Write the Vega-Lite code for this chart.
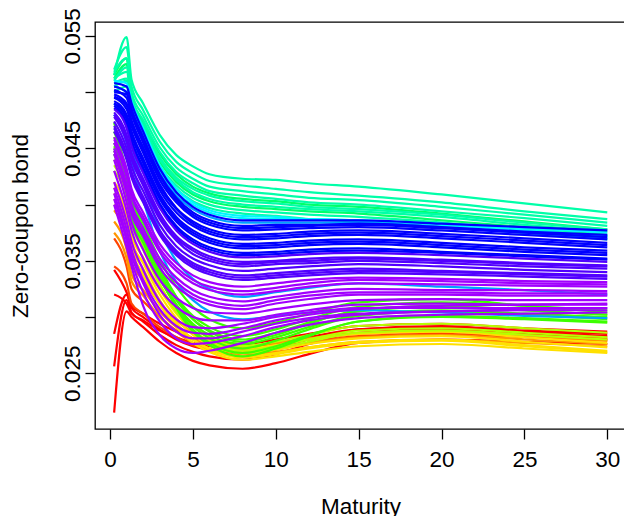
{
  "$schema": "https://vega.github.io/schema/vega-lite/v6.json",
  "width": 532,
  "height": 407,
  "autosize": "none",
  "padding": {"left": 95, "top": 22, "right": 0, "bottom": 90},
  "background": "white",
  "data": {"values": [
    {"id":"r1","grp":"r","a":0.0215,"b":0.0305,"p":0.0300,"c":0.0291,"d":0.0278,"e":0.0268,"f":0.0261,"g":0.0257,"h":0.0254,"i":0.0259,"j":0.0267,"k":0.0277,"l":0.0280,"m":0.0278,"n":0.0276},
    {"id":"r2","grp":"r","a":0.0256,"b":0.0315,"p":0.0304,"c":0.0296,"d":0.0284,"e":0.0275,"f":0.0269,"g":0.0265,"h":0.0262,"i":0.0267,"j":0.0276,"k":0.0286,"l":0.0289,"m":0.0285,"n":0.0280},
    {"id":"r3","grp":"r","a":0.0285,"b":0.0320,"p":0.0308,"c":0.0300,"d":0.0289,"e":0.0280,"f":0.0274,"g":0.0271,"h":0.0268,"i":0.0273,"j":0.0280,"k":0.0289,"l":0.0292,"m":0.0287,"n":0.0283},
    {"id":"r4","grp":"r","a":0.0320,"b":0.0312,"p":0.0303,"c":0.0297,"d":0.0288,"e":0.0282,"f":0.0277,"g":0.0274,"h":0.0272,"i":0.0276,"j":0.0282,"k":0.0289,"l":0.0291,"m":0.0288,"n":0.0285},
    {"id":"r5","grp":"r","a":0.0342,"b":0.0322,"p":0.0310,"c":0.0303,"d":0.0294,"e":0.0287,"f":0.0281,"g":0.0278,"h":0.0276,"i":0.0280,"j":0.0285,"k":0.0292,"l":0.0294,"m":0.0290,"n":0.0287},
    {"id":"o1","grp":"or","a":0.0345,"b":0.0330,"p":0.0312,"c":0.0303,"d":0.0291,"e":0.0282,"f":0.0275,"g":0.0271,"h":0.0268,"i":0.0271,"j":0.0277,"k":0.0283,"l":0.0285,"m":0.0282,"n":0.0279},
    {"id":"o2","grp":"or","a":0.0370,"b":0.0345,"p":0.0325,"c":0.0314,"d":0.0300,"e":0.0288,"f":0.0280,"g":0.0276,"h":0.0272,"i":0.0275,"j":0.0280,"k":0.0285,"l":0.0287,"m":0.0284,"n":0.0281},
    {"id":"o3","grp":"o","a":0.0385,"b":0.0360,"p":0.0338,"c":0.0324,"d":0.0305,"e":0.0291,"f":0.0281,"g":0.0275,"h":0.0270,"i":0.0273,"j":0.0277,"k":0.0282,"l":0.0284,"m":0.0280,"n":0.0276},
    {"id":"o4","grp":"o","a":0.0395,"b":0.0370,"p":0.0348,"c":0.0333,"d":0.0312,"e":0.0297,"f":0.0286,"g":0.0279,"h":0.0274,"i":0.0277,"j":0.0281,"k":0.0286,"l":0.0288,"m":0.0284,"n":0.0279},
    {"id":"o5","grp":"o","a":0.0375,"b":0.0352,"p":0.0332,"c":0.0319,"d":0.0300,"e":0.0287,"f":0.0277,"g":0.0271,"h":0.0266,"i":0.0269,"j":0.0273,"k":0.0278,"l":0.0280,"m":0.0277,"n":0.0274},
    {"id":"y1","grp":"y","a":0.0405,"b":0.0380,"p":0.0358,"c":0.0339,"d":0.0313,"e":0.0294,"f":0.0280,"g":0.0272,"h":0.0265,"i":0.0268,"j":0.0273,"k":0.0278,"l":0.0280,"m":0.0275,"n":0.0270},
    {"id":"y2","grp":"y","a":0.0415,"b":0.0390,"p":0.0368,"c":0.0348,"d":0.0320,"e":0.0299,"f":0.0284,"g":0.0275,"h":0.0268,"i":0.0271,"j":0.0276,"k":0.0281,"l":0.0283,"m":0.0278,"n":0.0273},
    {"id":"y3","grp":"y","a":0.0420,"b":0.0395,"p":0.0373,"c":0.0353,"d":0.0325,"e":0.0303,"f":0.0288,"g":0.0279,"h":0.0272,"i":0.0275,"j":0.0280,"k":0.0285,"l":0.0287,"m":0.0282,"n":0.0277},
    {"id":"y4","grp":"y","a":0.0400,"b":0.0378,"p":0.0356,"c":0.0337,"d":0.0311,"e":0.0291,"f":0.0277,"g":0.0269,"h":0.0262,"i":0.0265,"j":0.0269,"k":0.0274,"l":0.0276,"m":0.0272,"n":0.0268},
    {"id":"y5","grp":"y","a":0.0410,"b":0.0385,"p":0.0363,"c":0.0343,"d":0.0315,"e":0.0295,"f":0.0280,"g":0.0271,"h":0.0264,"i":0.0267,"j":0.0272,"k":0.0277,"l":0.0279,"m":0.0274,"n":0.0269},
    {"id":"g1","grp":"yg","a":0.0430,"b":0.0405,"p":0.0383,"c":0.0360,"d":0.0329,"e":0.0305,"f":0.0288,"g":0.0278,"h":0.0270,"i":0.0274,"j":0.0280,"k":0.0288,"l":0.0290,"m":0.0286,"n":0.0282},
    {"id":"g2","grp":"yg","a":0.0440,"b":0.0412,"p":0.0390,"c":0.0367,"d":0.0334,"e":0.0310,"f":0.0293,"g":0.0282,"h":0.0274,"i":0.0278,"j":0.0284,"k":0.0292,"l":0.0294,"m":0.0290,"n":0.0286},
    {"id":"g3","grp":"yg","a":0.0435,"b":0.0408,"p":0.0386,"c":0.0362,"d":0.0329,"e":0.0305,"f":0.0287,"g":0.0276,"h":0.0268,"i":0.0272,"j":0.0278,"k":0.0286,"l":0.0288,"m":0.0284,"n":0.0280},
    {"id":"g4","grp":"g","a":0.0473,"b":0.0425,"p":0.0403,"c":0.0375,"d":0.0337,"e":0.0308,"f":0.0287,"g":0.0275,"h":0.0265,"i":0.0272,"j":0.0283,"k":0.0296,"l":0.0300,"m":0.0298,"n":0.0295},
    {"id":"g5","grp":"g","a":0.0455,"b":0.0420,"p":0.0398,"c":0.0373,"d":0.0338,"e":0.0311,"f":0.0292,"g":0.0281,"h":0.0272,"i":0.0279,"j":0.0289,"k":0.0301,"l":0.0305,"m":0.0302,"n":0.0298},
    {"id":"g6","grp":"g","a":0.0460,"b":0.0428,"p":0.0406,"c":0.0380,"d":0.0345,"e":0.0318,"f":0.0298,"g":0.0287,"h":0.0278,"i":0.0284,"j":0.0294,"k":0.0306,"l":0.0310,"m":0.0306,"n":0.0302},
    {"id":"g7","grp":"g","a":0.0450,"b":0.0418,"p":0.0396,"c":0.0373,"d":0.0342,"e":0.0318,"f":0.0301,"g":0.0291,"h":0.0283,"i":0.0289,"j":0.0298,"k":0.0309,"l":0.0313,"m":0.0310,"n":0.0306},
    {"id":"g8","grp":"g","a":0.0465,"b":0.0430,"p":0.0408,"c":0.0384,"d":0.0351,"e":0.0327,"f":0.0309,"g":0.0298,"h":0.0290,"i":0.0295,"j":0.0303,"k":0.0313,"l":0.0316,"m":0.0310,"n":0.0304},
    {"id":"g9","grp":"g","a":0.0445,"b":0.0410,"p":0.0388,"c":0.0366,"d":0.0334,"e":0.0311,"f":0.0294,"g":0.0284,"h":0.0276,"i":0.0282,"j":0.0291,"k":0.0302,"l":0.0306,"m":0.0303,"n":0.0300},
    {"id":"g10","grp":"g","a":0.0448,"b":0.0415,"p":0.0393,"c":0.0370,"d":0.0339,"e":0.0315,"f":0.0298,"g":0.0288,"h":0.0280,"i":0.0286,"j":0.0295,"k":0.0305,"l":0.0309,"m":0.0306,"n":0.0302},
    {"id":"g11","grp":"g","a":0.0452,"b":0.0422,"p":0.0400,"c":0.0374,"d":0.0337,"e":0.0309,"f":0.0289,"g":0.0277,"h":0.0268,"i":0.0274,"j":0.0284,"k":0.0296,"l":0.0301,"m":0.0299,"n":0.0296},
    {"id":"gt1","grp":"gt","a":0.0515,"b":0.0530,"p":0.0495,"c":0.0473,"d":0.0445,"e":0.0427,"f":0.0416,"g":0.0410,"h":0.0405,"i":0.0403,"j":0.0400,"k":0.0398,"l":0.0392,"m":0.0385,"n":0.0378},
    {"id":"gt2","grp":"gt","a":0.0512,"b":0.0525,"p":0.0488,"c":0.0466,"d":0.0438,"e":0.0420,"f":0.0409,"g":0.0403,"h":0.0398,"i":0.0396,"j":0.0394,"k":0.0392,"l":0.0386,"m":0.0380,"n":0.0373},
    {"id":"t1","grp":"t","a":0.0515,"b":0.0549,"p":0.0511,"c":0.0490,"d":0.0462,"e":0.0444,"f":0.0434,"g":0.0427,"h":0.0423,"i":0.0422,"j":0.0419,"k":0.0416,"l":0.0409,"m":0.0401,"n":0.0393},
    {"id":"t2","grp":"t","a":0.0520,"b":0.0540,"p":0.0505,"c":0.0484,"d":0.0456,"e":0.0438,"f":0.0428,"g":0.0421,"h":0.0417,"i":0.0414,"j":0.0411,"k":0.0408,"l":0.0402,"m":0.0394,"n":0.0387},
    {"id":"t3","grp":"t","a":0.0518,"b":0.0530,"p":0.0500,"c":0.0479,"d":0.0451,"e":0.0433,"f":0.0423,"g":0.0416,"h":0.0412,"i":0.0409,"j":0.0406,"k":0.0404,"l":0.0398,"m":0.0391,"n":0.0384},
    {"id":"t4","grp":"t","a":0.0510,"b":0.0522,"p":0.0496,"c":0.0475,"d":0.0447,"e":0.0429,"f":0.0419,"g":0.0412,"h":0.0408,"i":0.0405,"j":0.0402,"k":0.0400,"l":0.0394,"m":0.0388,"n":0.0381},
    {"id":"t5","grp":"t","a":0.0512,"b":0.0518,"p":0.0492,"c":0.0471,"d":0.0442,"e":0.0424,"f":0.0414,"g":0.0408,"h":0.0403,"i":0.0401,"j":0.0398,"k":0.0396,"l":0.0391,"m":0.0384,"n":0.0378},
    {"id":"t6","grp":"t","a":0.0508,"b":0.0512,"p":0.0490,"c":0.0468,"d":0.0440,"e":0.0422,"f":0.0411,"g":0.0405,"h":0.0400,"i":0.0398,"j":0.0396,"k":0.0394,"l":0.0389,"m":0.0382,"n":0.0376},
    {"id":"t7","grp":"t","a":0.0505,"b":0.0510,"p":0.0487,"c":0.0465,"d":0.0435,"e":0.0417,"f":0.0406,"g":0.0400,"h":0.0395,"i":0.0393,"j":0.0391,"k":0.0389,"l":0.0384,"m":0.0378,"n":0.0372},
    {"id":"t8","grp":"t","a":0.0500,"b":0.0505,"p":0.0484,"c":0.0462,"d":0.0432,"e":0.0414,"f":0.0403,"g":0.0397,"h":0.0392,"i":0.0390,"j":0.0387,"k":0.0385,"l":0.0380,"m":0.0375,"n":0.0369},
    {"id":"c1","grp":"c","a":0.0510,"b":0.0508,"p":0.0492,"c":0.0468,"d":0.0435,"e":0.0414,"f":0.0402,"g":0.0395,"h":0.0390,"i":0.0389,"j":0.0387,"k":0.0386,"l":0.0382,"m":0.0377,"n":0.0372},
    {"id":"c2","grp":"c","a":0.0505,"b":0.0500,"p":0.0486,"c":0.0462,"d":0.0431,"e":0.0411,"f":0.0400,"g":0.0393,"h":0.0388,"i":0.0387,"j":0.0387,"k":0.0386,"l":0.0383,"m":0.0379,"n":0.0375},
    {"id":"s1","grp":"s","a":0.0505,"b":0.0500,"p":0.0485,"c":0.0461,"d":0.0428,"e":0.0408,"f":0.0396,"g":0.0389,"h":0.0384,"i":0.0384,"j":0.0384,"k":0.0384,"l":0.0380,"m":0.0375,"n":0.0370},
    {"id":"s2","grp":"s","a":0.0490,"b":0.0470,"p":0.0452,"c":0.0420,"d":0.0377,"e":0.0350,"f":0.0334,"g":0.0325,"h":0.0318,"i":0.0322,"j":0.0326,"k":0.0330,"l":0.0327,"m":0.0324,"n":0.0320},
    {"id":"s3","grp":"s","a":0.0480,"b":0.0455,"p":0.0437,"c":0.0404,"d":0.0359,"e":0.0331,"f":0.0315,"g":0.0305,"h":0.0298,"i":0.0301,"j":0.0304,"k":0.0306,"l":0.0304,"m":0.0301,"n":0.0299},
    {"id":"b1","grp":"b","a":0.0508,"b":0.0505,"p":0.0490,"c":0.0465,"d":0.0432,"e":0.0411,"f":0.0398,"g":0.0391,"h":0.0386,"i":0.0386,"j":0.0386,"k":0.0386,"l":0.0383,"m":0.0380,"n":0.0377},
    {"id":"b2","grp":"b","a":0.0505,"b":0.0500,"p":0.0485,"c":0.0460,"d":0.0427,"e":0.0406,"f":0.0393,"g":0.0386,"h":0.0381,"i":0.0382,"j":0.0382,"k":0.0383,"l":0.0380,"m":0.0376,"n":0.0373},
    {"id":"b9","grp":"b","a":0.0500,"b":0.0498,"p":0.0483,"c":0.0458,"d":0.0425,"e":0.0404,"f":0.0391,"g":0.0384,"h":0.0379,"i":0.0380,"j":0.0381,"k":0.0382,"l":0.0379,"m":0.0375,"n":0.0371},
    {"id":"b3","grp":"b","a":0.0502,"b":0.0495,"p":0.0480,"c":0.0455,"d":0.0422,"e":0.0402,"f":0.0389,"g":0.0382,"h":0.0377,"i":0.0378,"j":0.0379,"k":0.0380,"l":0.0377,"m":0.0373,"n":0.0369},
    {"id":"b4","grp":"b","a":0.0498,"b":0.0490,"p":0.0475,"c":0.0451,"d":0.0418,"e":0.0397,"f":0.0385,"g":0.0378,"h":0.0373,"i":0.0374,"j":0.0376,"k":0.0377,"l":0.0374,"m":0.0370,"n":0.0366},
    {"id":"b10","grp":"b","a":0.0496,"b":0.0488,"p":0.0473,"c":0.0449,"d":0.0416,"e":0.0396,"f":0.0383,"g":0.0376,"h":0.0371,"i":0.0372,"j":0.0374,"k":0.0375,"l":0.0372,"m":0.0368,"n":0.0364},
    {"id":"b5","grp":"b","a":0.0495,"b":0.0485,"p":0.0470,"c":0.0446,"d":0.0413,"e":0.0393,"f":0.0381,"g":0.0374,"h":0.0369,"i":0.0370,"j":0.0372,"k":0.0373,"l":0.0370,"m":0.0366,"n":0.0362},
    {"id":"b6","grp":"b","a":0.0492,"b":0.0480,"p":0.0465,"c":0.0441,"d":0.0409,"e":0.0389,"f":0.0377,"g":0.0370,"h":0.0365,"i":0.0366,"j":0.0368,"k":0.0369,"l":0.0366,"m":0.0362,"n":0.0359},
    {"id":"b11","grp":"b","a":0.0490,"b":0.0478,"p":0.0463,"c":0.0439,"d":0.0407,"e":0.0387,"f":0.0375,"g":0.0368,"h":0.0363,"i":0.0364,"j":0.0366,"k":0.0367,"l":0.0364,"m":0.0360,"n":0.0357},
    {"id":"b7","grp":"b","a":0.0490,"b":0.0476,"p":0.0461,"c":0.0437,"d":0.0405,"e":0.0385,"f":0.0373,"g":0.0366,"h":0.0361,"i":0.0362,"j":0.0364,"k":0.0365,"l":0.0362,"m":0.0358,"n":0.0355},
    {"id":"b8","grp":"b","a":0.0488,"b":0.0472,"p":0.0457,"c":0.0433,"d":0.0401,"e":0.0381,"f":0.0369,"g":0.0362,"h":0.0357,"i":0.0358,"j":0.0360,"k":0.0361,"l":0.0358,"m":0.0355,"n":0.0352},
    {"id":"b12","grp":"b","a":0.0486,"b":0.0470,"p":0.0455,"c":0.0431,"d":0.0399,"e":0.0379,"f":0.0367,"g":0.0360,"h":0.0355,"i":0.0356,"j":0.0358,"k":0.0359,"l":0.0357,"m":0.0354,"n":0.0351},
    {"id":"i1","grp":"i","a":0.0485,"b":0.0468,"p":0.0452,"c":0.0428,"d":0.0397,"e":0.0377,"f":0.0365,"g":0.0358,"h":0.0353,"i":0.0354,"j":0.0356,"k":0.0357,"l":0.0355,"m":0.0352,"n":0.0349},
    {"id":"i2","grp":"i","a":0.0482,"b":0.0462,"p":0.0446,"c":0.0423,"d":0.0392,"e":0.0372,"f":0.0361,"g":0.0354,"h":0.0349,"i":0.0350,"j":0.0352,"k":0.0353,"l":0.0351,"m":0.0348,"n":0.0346},
    {"id":"i7","grp":"i","a":0.0480,"b":0.0459,"p":0.0443,"c":0.0420,"d":0.0389,"e":0.0370,"f":0.0359,"g":0.0352,"h":0.0347,"i":0.0349,"j":0.0350,"k":0.0352,"l":0.0350,"m":0.0347,"n":0.0345},
    {"id":"i3","grp":"i","a":0.0478,"b":0.0456,"p":0.0440,"c":0.0417,"d":0.0387,"e":0.0368,"f":0.0356,"g":0.0350,"h":0.0345,"i":0.0347,"j":0.0348,"k":0.0350,"l":0.0348,"m":0.0345,"n":0.0343},
    {"id":"i4","grp":"i","a":0.0474,"b":0.0450,"p":0.0434,"c":0.0412,"d":0.0382,"e":0.0363,"f":0.0352,"g":0.0346,"h":0.0341,"i":0.0343,"j":0.0345,"k":0.0347,"l":0.0345,"m":0.0342,"n":0.0340},
    {"id":"i5","grp":"i","a":0.0470,"b":0.0445,"p":0.0429,"c":0.0407,"d":0.0377,"e":0.0359,"f":0.0348,"g":0.0342,"h":0.0337,"i":0.0339,"j":0.0341,"k":0.0343,"l":0.0341,"m":0.0339,"n":0.0337},
    {"id":"i8","grp":"i","a":0.0468,"b":0.0442,"p":0.0426,"c":0.0404,"d":0.0375,"e":0.0357,"f":0.0346,"g":0.0340,"h":0.0335,"i":0.0337,"j":0.0339,"k":0.0341,"l":0.0340,"m":0.0338,"n":0.0336},
    {"id":"i6","grp":"i","a":0.0465,"b":0.0440,"p":0.0424,"c":0.0402,"d":0.0373,"e":0.0355,"f":0.0344,"g":0.0338,"h":0.0333,"i":0.0335,"j":0.0337,"k":0.0339,"l":0.0338,"m":0.0336,"n":0.0334},
    {"id":"v1","grp":"v","a":0.0460,"b":0.0432,"p":0.0414,"c":0.0393,"d":0.0365,"e":0.0348,"f":0.0337,"g":0.0331,"h":0.0327,"i":0.0330,"j":0.0333,"k":0.0335,"l":0.0334,"m":0.0332,"n":0.0331},
    {"id":"v12","grp":"v","a":0.0458,"b":0.0428,"p":0.0410,"c":0.0389,"d":0.0361,"e":0.0344,"f":0.0333,"g":0.0327,"h":0.0323,"i":0.0326,"j":0.0330,"k":0.0333,"l":0.0332,"m":0.0330,"n":0.0329},
    {"id":"v2","grp":"v","a":0.0455,"b":0.0425,"p":0.0407,"c":0.0386,"d":0.0358,"e":0.0341,"f":0.0330,"g":0.0324,"h":0.0320,"i":0.0323,"j":0.0327,"k":0.0330,"l":0.0329,"m":0.0328,"n":0.0327},
    {"id":"v3","grp":"v","a":0.0450,"b":0.0418,"p":0.0400,"c":0.0379,"d":0.0352,"e":0.0335,"f":0.0324,"g":0.0318,"h":0.0314,"i":0.0318,"j":0.0322,"k":0.0325,"l":0.0324,"m":0.0324,"n":0.0323},
    {"id":"v13","grp":"v","a":0.0448,"b":0.0414,"p":0.0396,"c":0.0375,"d":0.0348,"e":0.0331,"f":0.0320,"g":0.0314,"h":0.0310,"i":0.0315,"j":0.0319,"k":0.0322,"l":0.0322,"m":0.0321,"n":0.0321},
    {"id":"v4","grp":"v","a":0.0445,"b":0.0410,"p":0.0392,"c":0.0372,"d":0.0344,"e":0.0327,"f":0.0317,"g":0.0311,"h":0.0307,"i":0.0312,"j":0.0316,"k":0.0320,"l":0.0320,"m":0.0319,"n":0.0319},
    {"id":"v5","grp":"v","a":0.0440,"b":0.0402,"p":0.0384,"c":0.0360,"d":0.0333,"e":0.0317,"f":0.0308,"g":0.0304,"h":0.0303,"i":0.0307,"j":0.0311,"k":0.0315,"l":0.0316,"m":0.0315,"n":0.0315},
    {"id":"v6","grp":"v","a":0.0430,"b":0.0395,"p":0.0377,"c":0.0352,"d":0.0325,"e":0.0309,"f":0.0300,"g":0.0297,"h":0.0297,"i":0.0302,"j":0.0306,"k":0.0311,"l":0.0312,"m":0.0311,"n":0.0311},
    {"id":"v11","grp":"v","a":0.0415,"b":0.0378,"p":0.0360,"c":0.0333,"d":0.0307,"e":0.0292,"f":0.0286,"g":0.0285,"h":0.0290,"i":0.0297,"j":0.0302,"k":0.0307,"l":0.0310,"m":0.0311,"n":0.0312},
    {"id":"v7","grp":"v","a":0.0420,"b":0.0385,"p":0.0367,"c":0.0342,"d":0.0314,"e":0.0298,"f":0.0291,"g":0.0290,"h":0.0294,"i":0.0300,"j":0.0304,"k":0.0308,"l":0.0308,"m":0.0308,"n":0.0308},
    {"id":"v8","grp":"v","a":0.0410,"b":0.0372,"p":0.0355,"c":0.0330,"d":0.0302,"e":0.0287,"f":0.0281,"g":0.0281,"h":0.0287,"i":0.0294,"j":0.0299,"k":0.0303,"l":0.0305,"m":0.0306,"n":0.0306},
    {"id":"v10","grp":"v","a":0.0405,"b":0.0368,"p":0.0350,"c":0.0322,"d":0.0296,"e":0.0281,"f":0.0276,"g":0.0277,"h":0.0283,"i":0.0291,"j":0.0297,"k":0.0302,"l":0.0305,"m":0.0307,"n":0.0308},
    {"id":"v9","grp":"v","a":0.0400,"b":0.0362,"p":0.0345,"c":0.0310,"d":0.0284,"e":0.0272,"f":0.0268,"g":0.0270,"h":0.0277,"i":0.0286,"j":0.0293,"k":0.0299,"l":0.0302,"m":0.0303,"n":0.0304}
  ]},
  "transform": [
    {"fold": ["a","b","p","c","d","e","f","g","h","i","j","k","l","m","n"], "as": ["key","y"]},
    {"lookup": "key", "from": {"data": {"values": [
      {"key":"a","mat":0.25},{"key":"b","mat":1},{"key":"p","mat":1.3},{"key":"c","mat":2},{"key":"d","mat":3},
      {"key":"e","mat":4},{"key":"f","mat":5},{"key":"g","mat":6},{"key":"h","mat":8},
      {"key":"i","mat":10},{"key":"j","mat":12},{"key":"k","mat":15},{"key":"l","mat":20},
      {"key":"m","mat":25},{"key":"n","mat":30}
    ]}, "key": "key", "fields": ["mat"]}}
  ],
  "mark": {"type": "line", "interpolate": "monotone", "strokeWidth": 2.2, "clip": true},
  "encoding": {
    "x": {
      "field": "mat", "type": "quantitative",
      "scale": {"domain": [-0.905, 31.19], "nice": false, "zero": false},
      "axis": {
        "values": [0, 5, 10, 15, 20, 25, 30],
        "title": "Maturity",
        "labelBaseline": "top", "labelPadding": 9,
        "titleX": 265.5, "titleY": 84.4, "titleAlign": "center", "titleBaseline": "alphabetic", "titleAngle": 0
      }
    },
    "y": {
      "field": "y", "type": "quantitative",
      "scale": {"domain": [0.02004, 0.05624], "nice": false, "zero": false},
      "axis": {
        "values": [0.025, 0.03, 0.035, 0.04, 0.045, 0.05, 0.055],
        "format": ".3f",
        "labelExpr": "round(datum.value*1000)%10==5 ? datum.label : ''",
        "labelAngle": 270, "labelAlign": "center", "labelBaseline": "alphabetic", "labelPadding": 6,
        "title": "Zero-coupon bond",
        "titleAngle": 270, "titleX": -68, "titleY": 203.5, "titleAlign": "center", "titleBaseline": "alphabetic"
      }
    },
    "detail": {"field": "id", "type": "nominal"},
    "color": {
      "field": "grp", "type": "nominal", "legend": null,
      "scale": {
        "domain": ["r","or","o","y","yg","g","gt","t","c","s","b","i","v"],
        "range": ["#FF0000","#FF4400","#FF9500","#FFE000","#B5FF00","#3DFF00","#00FF6A","#00FFA8","#00F5FF","#00A2FF","#0000FF","#5200FF","#A100FF"]
      }
    }
  },
  "config": {
    "view": {"stroke": "#000", "strokeWidth": 1.3},
    "axis": {
      "domain": false, "grid": false, "ticks": true,
      "tickSize": 10, "tickWidth": 1.3, "tickColor": "#000",
      "labelFont": "Liberation Sans", "labelFontSize": 22.5, "labelColor": "#000",
      "labelFlush": false, "labelOverlap": false, "labelBound": false,
      "titleFont": "Liberation Sans", "titleFontSize": 22.5, "titleFontWeight": "normal", "titleColor": "#000"
    }
  }
}
